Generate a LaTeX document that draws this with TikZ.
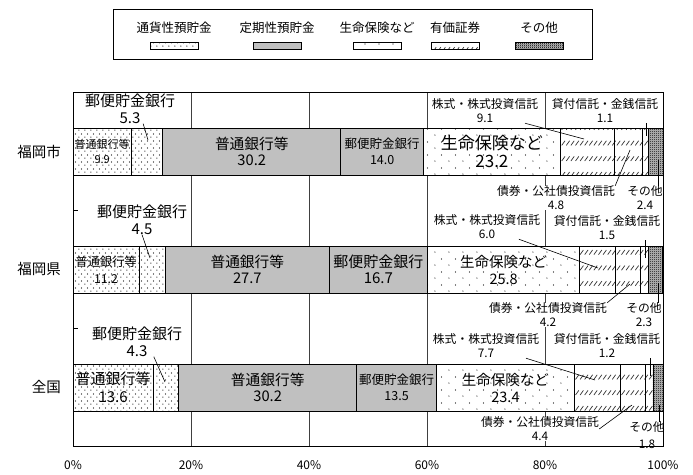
\documentclass[tikz,border=0pt]{standalone}
\usepackage{fontspec}
\setmainfont{Noto Sans CJK JP}
\usepackage{tikz}
\usetikzlibrary{positioning,patterns}

\definecolor{timegray}{HTML}{C0C0C0}

\pgfdeclarepatternformonly{densedots}{\pgfqpoint{0pt}{0pt}}{\pgfqpoint{6pt}{7pt}}{\pgfqpoint{6pt}{7pt}}
{
  \pgfpathcircle{\pgfqpoint{1pt}{1pt}}{.65pt}
  \pgfpathcircle{\pgfqpoint{4pt}{4.5pt}}{.65pt}
  \pgfusepath{fill}
}
\pgfdeclarepatternformonly{sparsedots}{\pgfqpoint{0pt}{0pt}}{\pgfqpoint{14pt}{13pt}}{\pgfqpoint{14pt}{13pt}}
{
  \pgfpathcircle{\pgfqpoint{1pt}{1pt}}{.65pt}
  \pgfpathcircle{\pgfqpoint{8pt}{7.5pt}}{.65pt}
  \pgfusepath{fill}
}
\pgfdeclarepatternformonly{slashes}{\pgfqpoint{-1pt}{-1pt}}{\pgfqpoint{5.6pt}{16.6pt}}{\pgfqpoint{4.6pt}{15.6pt}}
{
  \pgfsetlinewidth{.7pt}
  \pgfpathmoveto{\pgfqpoint{.5pt}{1pt}}
  \pgfpathlineto{\pgfqpoint{3.8pt}{5.6pt}}
  \pgfusepath{stroke}
}
\pgfdeclarepatternformonly{checker}{\pgfqpoint{0pt}{0pt}}{\pgfqpoint{2pt}{2pt}}{\pgfqpoint{2pt}{2pt}}
{
  \pgfpathrectangle{\pgfqpoint{0pt}{0pt}}{\pgfqpoint{1pt}{1pt}}
  \pgfpathrectangle{\pgfqpoint{1pt}{1pt}}{\pgfqpoint{1pt}{1pt}}
  \pgfusepath{fill}
}

\begin{document}
\begin{tikzpicture}
    [ x = 1pt, y = -1pt
    , every node/.style =
      { inner sep = 0pt }
    , fs/.style 2 args =
      { font = \fontsize{#1}{#2}\selectfont }
    , seg/.style =
      { draw, line width = .8pt, outer sep = 0pt
      , minimum height = 47pt, align = center }
    , share/.style =
      { minimum width = #1*5.9pt }
    , cash/.style =
      { preaction = {fill = white}, pattern = densedots }
    , timedep/.style =
      { fill = timegray }
    , insure/.style =
      { preaction = {fill = white}, pattern = sparsedots }
    , stock/.style =
      { preaction = {fill = white}, pattern = slashes, pattern color = black!80 }
    , other/.style =
      { preaction = {fill = black!25}, pattern = checker }
    , swatch/.style =
      { draw, line width = .8pt, minimum width = 48pt, minimum height = 7pt }
    , valuelabel/.style =
      { align = center, fs = {15}{17} }
    , boxlabel/.style =
      { align = center, fill = white, fs = {11.8}{14} }
    , catlabel/.style =
      { anchor = east, fs = {14.5}{17} }
    , leader/.style =
      { line width = .6pt }
    , gridline/.style =
      { line width = .7pt, black!75 }
    ]
    \useasboundingbox (0,0) rectangle (693,474);

    \node [draw, line width = .8pt, minimum width = 479pt, minimum height = 50pt] (legend) at (352.5,34) {};
    \node [fs = {12.5}{14}] (ltcash) at (174,27.5) {通貨性預貯金};
    \node [fs = {12.5}{14}] (lttime) at (277,27.5) {定期性預貯金};
    \node [fs = {12.5}{14}] (ltinsure) at (377,27.5) {生命保険など};
    \node [fs = {12.5}{14}] (ltstock) at (455,27.5) {有価証券};
    \node [fs = {12.5}{14}] (ltother) at (539,27.5) {その他};
    \node [swatch,cash] (lkcash) [below=9pt of ltcash] {};
    \node [swatch,timedep] (lktime) [below=9pt of lttime] {};
    \node [swatch,insure] (lkinsure) [below=9pt of ltinsure] {};
    \node [swatch,stock] (lkstock) [below=9pt of ltstock] {};
    \node [swatch,other] (lkother) [below=9pt of ltother] {};

    \foreach \p in {20,40,60,80}
      \draw [gridline] (73+\p*5.9,92) -- (73+\p*5.9,446);
    \foreach \y in {210,328}
      \draw [line width = .7pt] (73,\y) -- (78,\y);

    \node [seg,cash,share=9.9,anchor=north west,fs={11}{15}] (s1a) at (73,128) {普通銀行等\\9.9};
    \node [seg,cash,share=5.3] (s1b) [right=0pt of s1a] {};
    \node [seg,timedep,share=30.2,fs={14.7}{16.5}] (s1c) [right=0pt of s1b] {普通銀行等\\30.2};
    \node [seg,timedep,share=14.0,fs={12.5}{16}] (s1d) [right=0pt of s1c] {郵便貯金銀行\\14.0};
    \node [seg,insure,share=23.2,fs={17}{18.5}] (s1e) [right=0pt of s1d] {生命保険など\\23.2};
    \node [seg,stock,share=9.1] (s1f) [right=0pt of s1e] {};
    \node [seg,stock,share=4.8] (s1g) [right=0pt of s1f] {};
    \node [seg,stock,share=1.1] (s1h) [right=0pt of s1g] {};
    \node [seg,other,share=2.4] (s1i) [right=0pt of s1h] {};

    \node [seg,cash,share=11.2,anchor=north west,fs={12.3}{17}] (s2a) at (73,246) {普通銀行等\\11.2};
    \node [seg,cash,share=4.5] (s2b) [right=0pt of s2a] {};
    \node [seg,timedep,share=27.7,fs={14.7}{16.5}] (s2c) [right=0pt of s2b] {普通銀行等\\27.7};
    \node [seg,timedep,share=16.7,fs={15}{16.5}] (s2d) [right=0pt of s2c] {郵便貯金銀行\\16.7};
    \node [seg,insure,share=25.8,fs={14.5}{17}] (s2e) [right=0pt of s2d] {生命保険など\\25.8};
    \node [seg,stock,share=6.0] (s2f) [right=0pt of s2e] {};
    \node [seg,stock,share=4.2] (s2g) [right=0pt of s2f] {};
    \node [seg,stock,share=1.5] (s2h) [right=0pt of s2g] {};
    \node [seg,other,share=2.3] (s2i) [right=0pt of s2h] {};

    \node [seg,cash,share=13.6,anchor=north west,fs={15}{18}] (s3a) at (73,364) {普通銀行等\\13.6};
    \node [seg,cash,share=4.3] (s3b) [right=0pt of s3a] {};
    \node [seg,timedep,share=30.2,fs={14.7}{16.5}] (s3c) [right=0pt of s3b] {普通銀行等\\30.2};
    \node [seg,timedep,share=13.5,fs={12.5}{16}] (s3d) [right=0pt of s3c] {郵便貯金銀行\\13.5};
    \node [seg,insure,share=23.4,fs={14.5}{17}] (s3e) [right=0pt of s3d] {生命保険など\\23.4};
    \node [seg,stock,share=7.7] (s3f) [right=0pt of s3e] {};
    \node [seg,stock,share=4.4] (s3g) [right=0pt of s3f] {};
    \node [seg,stock,share=1.2] (s3h) [right=0pt of s3g] {};
    \node [seg,other,share=1.8] (s3i) [right=0pt of s3h] {};

    \node [catlabel] (fukuokashi) at (61,152) {福岡市};
    \node [catlabel] (fukuokaken) at (61,269) {福岡県};
    \node [catlabel] (zenkoku) at (61,387) {全国};
    \foreach \p in {0,20,...,100}
      \node [fs = {12}{14}] (ax\p) at (73+\p*5.9,465) {\p\%};

    \node [valuelabel] (p1) at (130,108.5) {郵便貯金銀行\\5.3};
    \node [valuelabel] (p2) at (142,219.5) {郵便貯金銀行\\4.5};
    \node [valuelabel] (p3) at (137,341.5) {郵便貯金銀行\\4.3};
    \node [boxlabel] (k1) at (485,111) {株式・株式投資信託\\9.1};
    \node [boxlabel] (t1) at (605,111) {貸付信託・金銭信託\\1.1};
    \node [boxlabel] (b1) at (556,198) {債券・公社債投資信託\\4.8};
    \node [boxlabel] (o1) at (645,198) {その他\\2.4};
    \node [boxlabel] (k2) at (487,227) {株式・株式投資信託\\6.0};
    \node [boxlabel] (t2) at (607,228) {貸付信託・金銭信託\\1.5};
    \node [boxlabel] (b2) at (548,315) {債券・公社債投資信託\\4.2};
    \node [boxlabel] (o2) at (644,315) {その他\\2.3};
    \node [boxlabel] (k3) at (486,346) {株式・株式投資信託\\7.7};
    \node [boxlabel] (t3) at (607,346) {貸付信託・金銭信託\\1.2};
    \node [boxlabel] (b3) at (540,429) {債券・公社債投資信託\\4.4};
    \node [boxlabel,fs={11.8}{17}] (o3) at (647,435.5) {その他\\1.8};

    \coordinate (p1tip) at (148,140);
    \coordinate (p2tip) at (150,258);
    \coordinate (p3tip) at (165,382);
    \coordinate (k1tip) at (584,139);
    \coordinate (k2tip) at (598,268);
    \coordinate (k3tip) at (595,380);
    \coordinate (t1tip) at (646,136);
    \coordinate (t2tip) at (645,258);
    \coordinate (t3tip) at (650,376);
    \coordinate (b1tip) at (630,150);
    \coordinate (b2tip) at (630,284);
    \coordinate (b3tip) at (632,405);
    \coordinate (o1tip) at (658,160);
    \coordinate (o2tip) at (658,283);
    \coordinate (o3tip) at (659,405);

    \draw [leader] (p1.-49) -- (p1tip);
    \draw [leader] (p2.south) -- (p2tip);
    \draw [leader] (p3.-42) -- (p3tip);
    \draw [leader] (k1.-17) -- (k1tip);
    \draw [leader] (k2.-21) -- (k2tip);
    \draw [leader] (k3.-17) -- (k3tip);
    \draw [leader] (t1.south -| t1tip) -- (t1tip);
    \draw [leader] (t2.south -| t2tip) -- (t2tip);
    \draw [leader] (t3.south -| t3tip) -- (t3tip);
    \draw [leader] (b1.north east) -- (b1tip);
    \draw [leader] (b2.north east) -- (b2tip);
    \draw [leader] (b3.east) -- (b3tip);
    \draw [leader] (o1.north -| o1tip) -- (o1tip);
    \draw [leader] (o2.north -| o2tip) -- (o2tip);
    \draw [leader] (o3.north -| o3tip) -- (o3tip);

    \draw [line width = .9pt] (73,92) rectangle (663,446);
\end{tikzpicture}
\end{document}
